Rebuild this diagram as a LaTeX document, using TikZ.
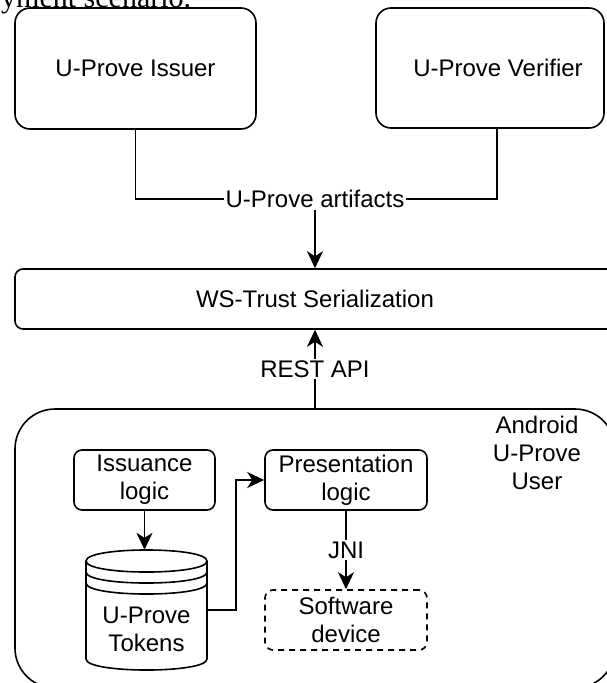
\documentclass[tikz,border=0pt]{standalone}
\usepackage{fontspec}
\setmainfont{Liberation Sans}
\newfontfamily\captionfont{Liberation Serif}
\usetikzlibrary{arrows.meta, positioning, calc}

\begin{document}
\begin{tikzpicture}[
    x=1pt, y=-1pt,
    box/.style={draw, rounded corners=8pt, line width=1.6pt, align=center, font=\fontsize{24}{28}\selectfont, inner sep=0pt},
    bigbox/.style={box, rounded corners=15pt},
    devbox/.style={box, dash pattern=on 6pt off 5pt},
    lbl/.style={fill=white, inner sep=1.5pt, font=\fontsize{24}{28}\selectfont, align=center},
    line/.style={line width=1.6pt},
    arrow/.style={-{Stealth[length=17pt, width=16pt, inset=5pt]}, line width=1.6pt}
]
\useasboundingbox (0,0) rectangle (606,683);

% Caption fragment above the figure
\node[anchor=base west, inner sep=0pt, font=\captionfont\fontsize{30}{30}\selectfont] (caption) at (1,7) {yment scenario.};

% Issuer and verifier
\node[bigbox, minimum width=241pt, minimum height=121pt] (issuer) at (135.5,68.5) {U-Prove Issuer};
\node[bigbox, minimum width=228pt, minimum height=120pt] (verifier) at (490,68) {\hspace*{16pt}U-Prove Verifier};

\node[lbl] (artifacts) at (315,199) {U-Prove artifacts};
\draw[line] (issuer.south) |- (artifacts.west);
\draw[line] ([xshift=7pt]verifier.south) |- (artifacts.east);

% Serialization layer
\node[box, minimum width=600pt, minimum height=60pt] (wstrust) at (315,299) {WS-Trust Serialization};
\draw[arrow] (artifacts.south) -- (wstrust.north);

% Android user
\node[box, rounded corners=40pt, minimum width=600pt, minimum height=279pt] (user) at (315,548.5) {};
\node[lbl, fill=none] (android) at (537,453) {Android\\U-Prove\\User};

\draw[arrow] (user.north) -- (wstrust.south) node[lbl, midway] (restapi) {REST API};

\node[box, minimum width=141pt, minimum height=60pt] (issuance) at (144.5,480) {Issuance\\logic};
\node[box, minimum width=162pt, minimum height=60pt] (presentation) at (346,480) {Presentation\\logic};
\node[devbox, minimum width=162pt, minimum height=60pt] (software) at (346,620) {Software\\device};

% Token store
\node[minimum width=121pt, minimum height=120pt, inner sep=0pt] (tokens) at (146.5,610) {};
\draw[line] (86,561) .. controls (86,546.3) and (207,546.3) .. (207,561) -- (207,659)
    .. controls (207,673.7) and (86,673.7) .. (86,659) -- cycle;
\foreach \dy in {561,572,583}
    \draw[line] (86,\dy) .. controls (86,\dy+14.7) and (207,\dy+14.7) .. (207,\dy);
\node[lbl, fill=none] (tokenstext) at (146.5,629) {U-Prove\\Tokens};

\draw[arrow] (issuance.south) -- (issuance.south |- tokens.north);
\draw[arrow] (tokens.east) -- ++(29,0) |- (presentation.west);
\draw[arrow] (presentation.south) -- (software.north) node[lbl, midway] (jni) {JNI};

\end{tikzpicture}
\end{document}
